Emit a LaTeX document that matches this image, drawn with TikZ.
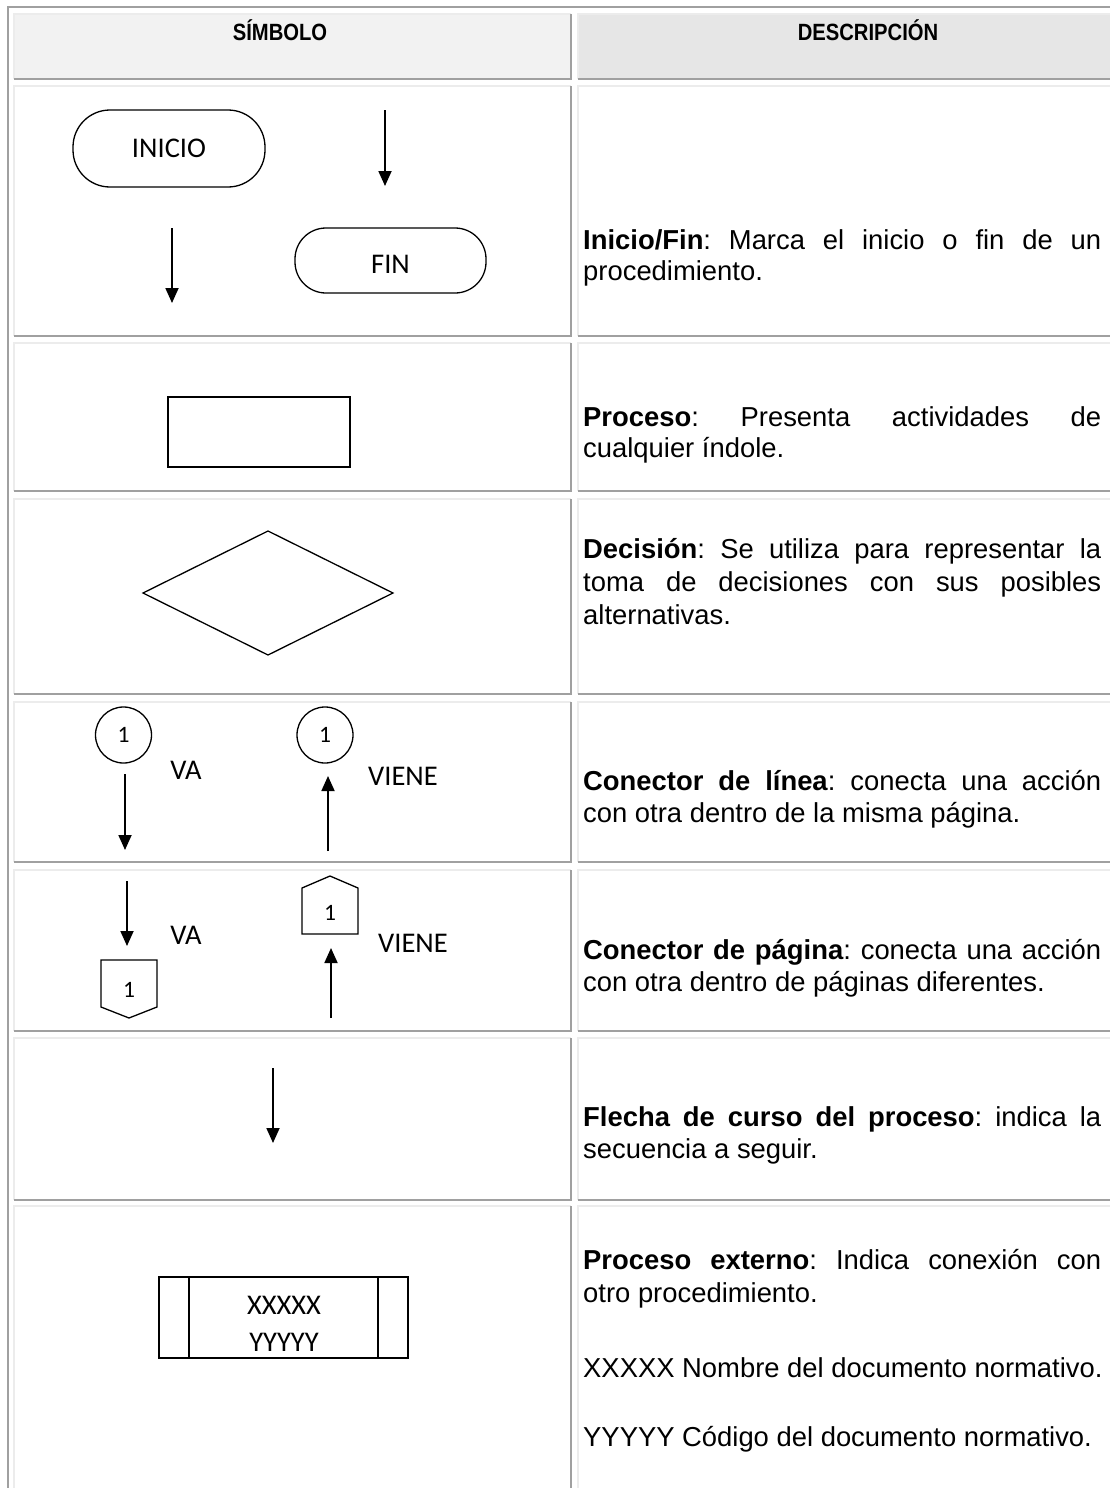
\documentclass[tikz,border=0pt]{standalone}
\usepackage{fontspec}
\setmainfont{Liberation Sans}
\newfontfamily\calib{Carlito}
\usetikzlibrary{arrows.meta}
\definecolor{darkline}{HTML}{A0A0A0}
\definecolor{lightline}{HTML}{ECECEC}
\definecolor{headA}{HTML}{F2F2F2}
\definecolor{headB}{HTML}{E6E6E6}
\tikzset{
  darkb/.style={draw=darkline, line width=1.6pt},
  lightb/.style={draw=lightline, line width=1.6pt},
  outerb/.style={draw=darkline, line width=2pt},
  symshape/.style={draw=black, line width=1.3pt},
  flow/.style={line width=1.8pt, -{Triangle[width=13pt,length=15pt]}},
  desc/.style={anchor=base west, inner sep=0pt, font=\frenchspacing\fontsize{27.4}{32}\selectfont},
  headtxt/.style={anchor=base, inner sep=0pt, font=\bfseries\fontsize{23.5}{27}\selectfont},
  symtxt/.style={inner sep=0pt, font=\calib\fontsize{28.5}{34}\selectfont},
  numtxt/.style={inner sep=0pt, font=\calib\fontsize{23.5}{27}\selectfont}
}
\newcommand{\jline}[1]{\makebox[518pt][s]{#1}}
\newcommand{\narrow}[1]{\scalebox{0.86}[1]{#1}}
\frenchspacing
\begin{document}
\begin{tikzpicture}[x=1pt,y=-1pt]
\useasboundingbox (0,0) rectangle (1110,1488);
\clip (0,0) rectangle (1110,1488);
% header fills
\fill[headA] (14,14) rectangle (571,79);
\fill[headB] (578,14) rectangle (1125,79);
% cells
\foreach \ya/\yb in {14/79, 86/336, 343/491, 499/694, 702/862, 870/1031, 1038/1200, 1206/1520}{
  \foreach \xa/\xb in {14/571, 578/1125}{
    \draw[lightb] (\xa,\yb) -- (\xa,\ya) -- (\xb,\ya);
    \draw[darkb] (\xb,\ya) -- (\xb,\yb) -- (\xa,\yb);
  }
}
% outer border
\draw[outerb] (7.5,1520) -- (7.5,7.5) -- (1125,7.5);

% header texts
\node[headtxt] (hsym) at (280,41) {\narrow{SÍMBOLO}};
\node[headtxt] (hdesc) at (868,41) {\narrow{DESCRIPCIÓN}};

% Row 1: Inicio / Fin
\node[symshape, symtxt, rectangle, rounded corners=37pt, minimum width=192pt, minimum height=77pt] (inicio) at (169,148.5) {INICIO};
\node[symshape, symtxt, rectangle, rounded corners=31pt, minimum width=191pt, minimum height=65pt, text depth=0pt] (fin) at (390.5,260.5) {\raisebox{-8pt}{FIN}};
\coordinate (a1s) at (385,110);
\coordinate (a1e) at (385,186);
\draw[flow] (a1s) -- (a1e);
\coordinate (a2s) at (172,228);
\coordinate (a2e) at (172,303);
\draw[flow] (a2s) -- (a2e);
\node[desc] (d1a) at (583,249) {\jline{\textbf{Inicio/Fin}: Marca el inicio o fin de un}};
\node[desc] (d1b) at (583,280) {procedimiento.};

% Row 2: Proceso
\node[symshape, rectangle, minimum width=182pt, minimum height=70pt] (proc) at (259,432) {};
\node[desc] (d2a) at (583,426) {\jline{\textbf{Proceso}: Presenta actividades de}};
\node[desc] (d2b) at (583,457) {cualquier índole.};

% Row 3: Decision
\coordinate (dl) at (143,593);
\coordinate (dt) at (268,531);
\coordinate (dr) at (393,593);
\coordinate (db) at (268,655);
\draw[symshape, line join=miter] (dl) -- (dt) -- (dr) -- (db) -- cycle;
\node[desc] (d3a) at (583,558) {\jline{\textbf{Decisión}: Se utiliza para representar la}};
\node[desc] (d3b) at (583,591) {\jline{toma de decisiones con sus posibles}};
\node[desc] (d3c) at (583,624) {alternativas.};

% Row 4: line connector
\node[symshape, circle, minimum size=56pt, inner sep=0pt, numtxt] (c1) at (123.5,735) {1};
\node[symshape, circle, minimum size=56pt, inner sep=0pt, numtxt] (c2) at (325,735) {1};
\node[symtxt] (va1) at (186,770) {VA};
\node[symtxt] (vi1) at (403,776) {VIENE};
\coordinate (a3s) at (125,774);
\coordinate (a3e) at (125,850);
\draw[flow] (a3s) -- (a3e);
\coordinate (a4s) at (328,851);
\coordinate (a4e) at (328,776);
\draw[flow] (a4s) -- (a4e);
\node[desc] (d4a) at (583,790) {\jline{\textbf{Conector de línea}: conecta una acción}};
\node[desc] (d4b) at (583,822) {con otra dentro de la misma página.};

% Row 5: page connector
\draw[symshape, line join=miter] (101,960) -- (157,960) -- (157,1007) -- (129,1018) -- (101,1007) -- cycle;
\node[numtxt] (p1) at (129,990) {1};
\draw[symshape, line join=miter] (302,934) -- (358,934) -- (358,888) -- (330,876) -- (302,888) -- cycle;
\node[numtxt] (p2) at (330,913) {1};
\node[symtxt] (va2) at (186,935) {VA};
\node[symtxt] (vi2) at (413,943) {VIENE};
\coordinate (a5s) at (127,881);
\coordinate (a5e) at (127,946);
\draw[flow] (a5s) -- (a5e);
\coordinate (a6s) at (331,1018);
\coordinate (a6e) at (331,948);
\draw[flow] (a6s) -- (a6e);
\node[desc] (d5a) at (583,959) {\jline{\textbf{Conector de página}: conecta una acción}};
\node[desc] (d5b) at (583,991) {con otra dentro de páginas diferentes.};

% Row 6: flow arrow
\coordinate (a7s) at (273,1068);
\coordinate (a7e) at (273,1143);
\draw[flow] (a7s) -- (a7e);
\node[desc] (d6a) at (583,1126) {\jline{\textbf{Flecha de curso del proceso}: indica la}};
\node[desc] (d6b) at (583,1158) {secuencia a seguir.};

% Row 7: external process
\node[symshape, rectangle, minimum width=249pt, minimum height=81pt] (ext) at (283.5,1317.5) {};
\draw[symshape] (189,1277) -- (189,1358);
\draw[symshape] (378,1277) -- (378,1358);
\node[symtxt] (xx) at (284,1305) {XXXXX};
\node[symtxt] (yy) at (284,1342) {YYYYY};
\node[desc] (d7a) at (583,1269) {\jline{\textbf{Proceso externo}: Indica conexión con}};
\node[desc] (d7b) at (583,1302) {otro procedimiento.};
\node[desc] (d7c) at (583,1377) {XXXXX Nombre del documento normativo.};
\node[desc] (d7d) at (583,1446) {YYYYY Código del documento normativo.};
\end{tikzpicture}
\end{document}
